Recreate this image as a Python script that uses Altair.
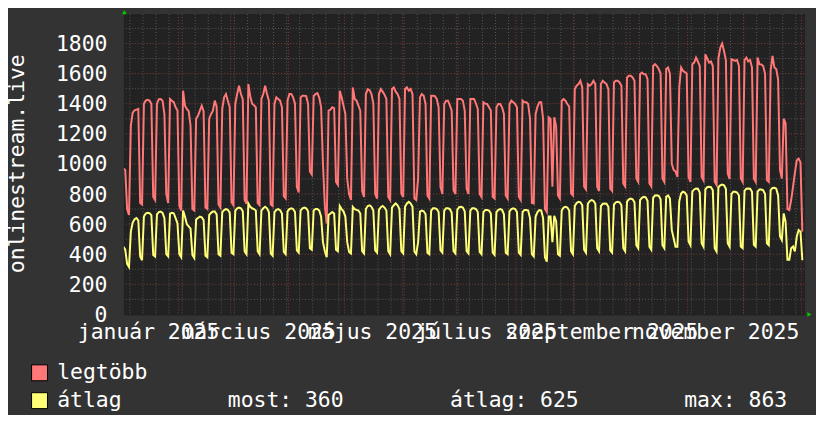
import altair as alt
import pandas as pd

# ---- daily values, starting Thu 2025-01-02 (one value per day) ----
# legtöbb (maximum)
red = [
    970, 960, 700, 660,                              # Jan 2 - Jan 5
    1255, 1340, 1355, 1360, 1365, 740, 730,          # Jan 6
    1400, 1420, 1425, 1420, 1400, 780, 760,          # Jan 13
    1400, 1430, 1431, 1420, 1330, 800, 740,          # Jan 20
    1431, 1420, 1410, 1376, 1354, 720, 690,          # Jan 27
    1486, 1387, 1365, 1350, 1255, 700, 690,          # Feb 3
    1300, 1320, 1354, 1387, 1350, 710, 700,          # Feb 10
    1300, 1330, 1354, 1420, 1380, 730, 710,          # Feb 17
    1365, 1442, 1464, 1420, 1376, 745, 725,          # Feb 24
    1398, 1464, 1519, 1464, 1430, 760, 735,          # Mar 3
    1530, 1450, 1400, 1390, 1375, 740, 726,          # Mar 10
    1431, 1464, 1519, 1464, 1420, 730, 720,          # Mar 17
    1398, 1442, 1431, 1420, 1376, 785, 770,          # Mar 24
    1420, 1464, 1464, 1442, 1400, 848, 810,          # Mar 31
    1442, 1453, 1453, 1450, 1400, 950, 930,          # Apr 7
    1450, 1464, 1470, 1440, 1376, 1000, 720,         # Apr 14
    605, 1354, 1360, 1376, 1370, 880, 860,           # Apr 21
    1486, 1442, 1387, 1332, 900, 800, 760,           # Apr 28
    1508, 1431, 1420, 1387, 1354, 820, 780,          # May 5
    1464, 1497, 1490, 1464, 1400, 800, 770,          # May 12
    1464, 1497, 1480, 1460, 1431, 780, 760,          # May 19
    1497, 1508, 1480, 1464, 1431, 804, 780,          # May 26
    1497, 1508, 1486, 1497, 1464, 770, 760,          # Jun 2
    900, 1442, 1464, 1453, 1398, 790, 770,           # Jun 9
    1453, 1453, 1450, 1431, 1376, 848, 800,          # Jun 16
    1398, 1420, 1420, 1390, 1354, 825, 800,          # Jun 23
    1431, 1431, 1431, 1420, 1354, 836, 800,          # Jun 30
    1431, 1431, 1431, 1400, 1365, 800, 780,          # Jul 7
    1409, 1400, 1398, 1376, 1354, 782, 770,          # Jul 14
    1376, 1398, 1398, 1376, 1332, 790, 770,          # Jul 21
    1398, 1420, 1409, 1398, 1376, 782, 760,          # Jul 28
    1420, 1409, 1409, 1398, 1300, 740, 737,          # Aug 4
    1332, 1380, 1409, 1409, 1300, 700, 680,          # Aug 11
    1310, 1300, 848, 1310, 1250, 790, 770,           # Aug 18
    1420, 1431, 1420, 1398, 1380, 804, 790,          # Aug 25
    1497, 1519, 1530, 1552, 1508, 848, 830,          # Sep 1
    1530, 1519, 1530, 1552, 1530, 848, 820,          # Sep 8
    1530, 1552, 1541, 1530, 1497, 836, 820,          # Sep 15
    1541, 1552, 1552, 1541, 1519, 870, 850,          # Sep 22
    1574, 1585, 1585, 1574, 1552, 903, 880,          # Sep 29
    1596, 1607, 1596, 1596, 1563, 870, 850,          # Oct 6
    1651, 1662, 1650, 1630, 1600, 903, 880,          # Oct 13
    1630, 1640, 1600, 1000, 960, 950, 913,           # Oct 20
    1508, 1640, 1618, 1610, 1600, 913, 880,          # Oct 27
    1662, 1673, 1706, 1680, 1650, 913, 890,          # Nov 3
    1728, 1700, 1673, 1680, 1650, 881, 860,          # Nov 10
    1700, 1772, 1800, 1750, 1690, 936, 900,          # Nov 17
    1695, 1690, 1684, 1690, 1650, 903, 880,          # Nov 24
    1690, 1706, 1680, 1690, 1640, 903, 880,          # Dec 1
    1706, 1662, 1660, 1650, 1600, 892, 880,          # Dec 8
    1618, 1717, 1640, 1630, 1560, 958, 903,          # Dec 15
    1300, 1270, 700, 694, 760, 848, 940,             # Dec 22
    1024, 1035, 1010, 550,                           # Dec 29 - Jan 1
]
# átlag (average)
yellow = [
    450, 430, 335, 315,
    550, 610, 632, 640, 625, 385, 360,
    650, 670, 675, 672, 660, 395, 385,
    665, 680, 683, 675, 640, 400, 385,
    670, 675, 672, 640, 605, 400, 380,
    690, 650, 600, 585, 570, 395, 375,
    630, 640, 650, 645, 627, 390, 380,
    660, 675, 683, 683, 665, 400, 390,
    680, 693, 700, 695, 675, 410, 400,
    690, 705, 710, 705, 685, 418, 400,
    737, 715, 705, 700, 690, 420, 400,
    690, 705, 715, 705, 680, 405, 390,
    680, 695, 700, 693, 670, 415, 400,
    685, 700, 705, 700, 680, 425, 410,
    690, 705, 710, 705, 685, 440, 430,
    690, 700, 700, 690, 650, 480, 420,
    380, 660, 670, 680, 670, 430, 420,
    720, 700, 685, 650, 480, 415, 405,
    715, 700, 695, 690, 670, 420, 405,
    700, 720, 725, 715, 690, 425, 410,
    695, 712, 720, 710, 690, 420, 400,
    710, 725, 737, 725, 700, 420, 405,
    715, 737, 748, 737, 715, 418, 400,
    480, 683, 690, 685, 665, 410, 400,
    690, 705, 705, 700, 680, 425, 410,
    690, 705, 705, 700, 675, 420, 405,
    695, 712, 715, 710, 685, 420, 405,
    690, 705, 705, 700, 680, 415, 400,
    680, 693, 693, 690, 670, 410, 395,
    680, 695, 700, 695, 665, 410, 400,
    685, 700, 705, 700, 680, 410, 395,
    680, 693, 693, 690, 640, 400, 385,
    650, 680, 693, 690, 640, 380, 350,
    650, 650, 480, 655, 620, 400, 390,
    690, 710, 715, 710, 690, 420, 400,
    720, 740, 748, 745, 725, 430, 410,
    735, 752, 760, 755, 735, 440, 420,
    720, 735, 737, 735, 715, 425, 410,
    730, 745, 748, 745, 725, 440, 420,
    750, 765, 770, 765, 745, 460, 440,
    760, 775, 781, 778, 755, 450, 430,
    775, 790, 792, 788, 765, 460, 440,
    781, 790, 770, 560, 506, 450, 450,
    750, 803, 815, 810, 790, 484, 460,
    815, 830, 837, 835, 810, 473, 450,
    830, 845, 848, 845, 825, 440, 418,
    845, 858, 863, 858, 835, 473, 450,
    800, 815, 815, 810, 790, 451, 440,
    820, 835, 837, 835, 815, 462, 450,
    815, 830, 830, 825, 800, 473, 460,
    825, 840, 841, 835, 790, 520, 495,
    671, 616, 363, 363, 440, 451, 418,
    517, 561, 550, 360,
]
y_ticks = [0, 200, 400, 600, 800, 1000, 1200, 1400, 1600, 1800]
month_labels = ["január 2025", "március 2025", "május 2025",
                "július 2025", "szeptember 2025", "november 2025"]
month_label_dates = ["2025-01-16T00:00:00", "2025-03-16T00:00:00", "2025-05-16T00:00:00",
                     "2025-07-16T00:00:00", "2025-09-16T00:00:00", "2025-11-16T00:00:00"]
series_names = ["legtöbb", "átlag"]
stat_texts = ["most: 360", "átlag: 625", "max: 863"]

RED = "#ff7777"
YEL = "#ffff77"
FONT = "DejaVu Sans Mono"
FS = 21.5
W, H = 684, 302

dates = pd.date_range("2025-01-02 12:00", periods=len(red), freq="D")
df = pd.DataFrame({
    "date": dates.strftime("%Y-%m-%dT%H:%M:%S"),
    "red": red,
    "yellow": yellow,
})

xscale = alt.Scale(domain=[alt.DateTime(year=2025, month=1, date=2, hours=18),
                           alt.DateTime(year=2026, month=1, date=2, hours=10)])
yscale = alt.Scale(domain=[0, 1995], nice=False, zero=False)

weeks = pd.date_range("2025-01-06", "2025-12-29", freq="7D").strftime("%Y-%m-%dT00:00:00")
months = pd.date_range("2025-02-01", "2026-01-01", freq="MS").strftime("%Y-%m-%dT00:00:00")
minor_y = [v for v in range(100, 2000, 100) if v % 200 != 0]
major_y = [v for v in y_ticks if v > 0]

def xgrid(vals, color):
    return alt.Chart(pd.DataFrame({"d": list(vals)})).mark_rule(
        color=color, strokeWidth=1, strokeDash=[1, 2]
    ).encode(x=alt.X("d:T", scale=xscale, axis=None))

def ygrid(vals, color):
    return alt.Chart(pd.DataFrame({"v": list(vals)})).mark_rule(
        color=color, strokeWidth=1, strokeDash=[1, 2]
    ).encode(y=alt.Y("v:Q", scale=yscale, axis=None))

base = alt.Chart(df)
red_line = base.mark_line(color=RED, strokeWidth=2, clip=True).encode(
    x=alt.X("date:T", scale=xscale, axis=None),
    y=alt.Y("red:Q", scale=yscale, axis=None))
yel_line = base.mark_line(color=YEL, strokeWidth=2, clip=True).encode(
    x=alt.X("date:T", scale=xscale, axis=None),
    y=alt.Y("yellow:Q", scale=yscale, axis=None))

ylabels = alt.Chart(pd.DataFrame({"v": y_ticks})).mark_text(
    align="right", baseline="alphabetic", dy=7.6, font=FONT, fontSize=FS, color="#ffffff"
).encode(y=alt.Y("v:Q", scale=yscale, axis=None), x=alt.value(-16.5), text="v:Q")

xlabels = alt.Chart(pd.DataFrame({"d": month_label_dates, "t": month_labels})).mark_text(
    align="center", baseline="alphabetic", font=FONT, fontSize=FS, color="#ffffff"
).encode(x=alt.X("d:T", scale=xscale, axis=None), y=alt.value(326.3), text="t:N")

# rotated axis title; baseline on the right side of the glyphs
title = alt.Chart(pd.DataFrame({"t": ["onlinestream.live"]})).mark_text(
    align="center", baseline="alphabetic", angle=270, font=FONT, fontSize=FS, color="#ffffff"
).encode(x=alt.value(-100.5), y=alt.value(150.5), text="t:N")

def swatch(color, y0):
    return alt.Chart(pd.DataFrame({"a": [0]})).mark_rect(
        color=color, stroke="#000000", strokeWidth=1
    ).encode(x=alt.value(-92.8), x2=alt.value(-76.8), y=alt.value(y0), y2=alt.value(y0 + 16))

def label(text, x, y):
    return alt.Chart(pd.DataFrame({"t": [text]})).mark_text(
        align="left", baseline="alphabetic", font=FONT, fontSize=FS, color="#ffffff"
    ).encode(x=alt.value(x), y=alt.value(y), text="t:N")

arrow_up = alt.Chart(pd.DataFrame({"a": [0]})).mark_point(
    shape="triangle-up", filled=True, color="#00cc00", size=22, opacity=1
).encode(x=alt.value(0.5), y=alt.value(-2))
arrow_right = alt.Chart(pd.DataFrame({"a": [0]})).mark_point(
    shape="triangle-right", filled=True, color="#00cc00", size=22, opacity=1
).encode(x=alt.value(689.3), y=alt.value(302))

chart = alt.layer(
    xgrid(weeks, "#585858"),
    ygrid(minor_y, "#585858"),
    xgrid(months, "#843838"),
    ygrid(major_y, "#843838"),
    red_line, yel_line,
    ylabels, xlabels, title,
    swatch(RED, 352.7), swatch(YEL, 380.7),
    label(series_names[0], -67, 367),
    label(series_names[1], -67, 395.3),
    label(stat_texts[0], 104.5, 395.3),
    label(stat_texts[1], 328, 395.3),
    label(stat_texts[2], 563.5, 395.3),
    arrow_up, arrow_right,
).properties(
    width=W, height=H, autosize="none",
    padding={"left": 116.5, "top": 5, "right": 12, "bottom": 100},
).configure(background="#333333").configure_view(fill="#222222", stroke="#222222")

chart.save("out.html", embed_options={"renderer": "svg", "actions": False})
